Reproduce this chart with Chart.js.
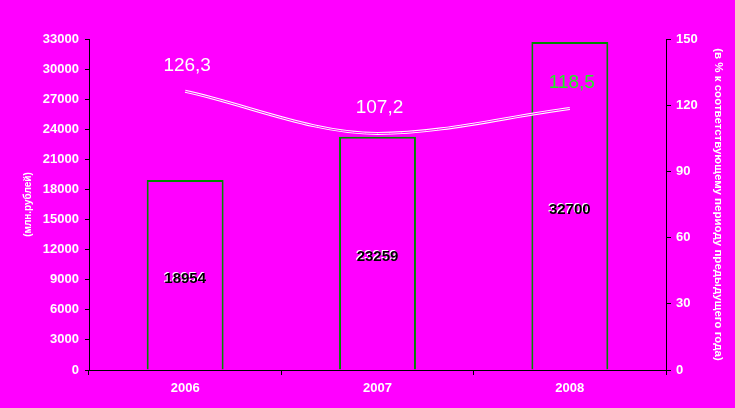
<!DOCTYPE html>
<html>
<head>
<meta charset="utf-8">
<script src="https://cdn.jsdelivr.net/npm/chart.js@4"></script>
<style>
  html, body { margin: 0; padding: 0; background: #ff00ff; }
  #wrap { position: relative; width: 735px; height: 408px; }
</style>
</head>
<body>
<div id="wrap"><canvas id="chart"></canvas></div>
<script>
const years = ["2006", "2007", "2008"];
const volume = [18954, 23259, 32700];     // млн. рублей
const growth = [126.3, 107.2, 118.5];     // % к предыдущему году
const growthLabels = ["126,3", "107,2", "118,5"];

const FONT = "'Liberation Sans', Arial, sans-serif";

// подписи значений на столбиках и над линией
const valueLabels = {
  id: "valueLabels",
  afterDatasetsDraw(chart) {
    const ctx = chart.ctx;
    ctx.save();
    ctx.textAlign = "center";
    ctx.textBaseline = "middle";

    const bars = chart.getDatasetMeta(0).data;
    ctx.font = "bold 15px " + FONT;
    bars.forEach((bar, i) => {
      const y = (bar.y + bar.base) / 2 + 4;
      ctx.fillStyle = "#ffffff";
      ctx.fillText(String(volume[i]), bar.x - 1, y - 1);
      ctx.fillStyle = "#000000";
      ctx.fillText(String(volume[i]), bar.x, y);
    });

    const pts = chart.getDatasetMeta(1).data;
    const colors = ["#ffffff", "#ffffff", "#22ee22"];
    ctx.font = "19px " + FONT;
    pts.forEach((p, i) => {
      ctx.fillStyle = colors[i];
      ctx.fillText(growthLabels[i], p.x + 2, p.y - 26);
    });
    ctx.restore();
  }
};

const plainTick = (v) => String(v);

new Chart(document.getElementById("chart"), {
  data: {
    labels: years,
    datasets: [
      {
        type: "bar",
        data: volume,
        yAxisID: "y",
        backgroundColor: "#ff00ff",
        borderColor: "#008800",
        borderWidth: 2,
        categoryPercentage: 1,
        barPercentage: 0.4,
        order: 3
      },
      {
        type: "line",
        data: growth,
        yAxisID: "y2",
        borderColor: "#ffffff",
        borderWidth: 3,
        cubicInterpolationMode: "monotone",
        pointRadius: 0,
        order: 2
      },
      {
        type: "line",
        data: growth,
        yAxisID: "y2",
        borderColor: "#ff00ff",
        borderWidth: 1,
        cubicInterpolationMode: "monotone",
        pointRadius: 0,
        order: 1
      }
    ]
  },
  options: {
    responsive: true,
    maintainAspectRatio: false,
    animation: false,
    layout: { padding: { top: 39, left: 0, right: 0, bottom: 0 } },
    plugins: {
      legend: { display: false },
      tooltip: { enabled: false }
    },
    scales: {
      x: {
        type: "category",
        offset: true,
        grid: {
          offset: true,
          drawOnChartArea: false,
          drawTicks: true,
          tickLength: 5,
          color: "#000000"
        },
        border: { display: true, color: "#000000", width: 1 },
        ticks: {
          color: "#ffffff",
          font: { family: FONT, size: 13, weight: "bold" },
          padding: 6,
          maxRotation: 0
        },
        afterFit(scale) { scale.height = 38; }
      },
      y: {
        position: "left",
        min: 0,
        max: 33000,
        grid: {
          drawOnChartArea: false,
          drawTicks: true,
          tickLength: 4,
          color: "#000000"
        },
        border: { display: true, color: "#000000", width: 1 },
        ticks: {
          stepSize: 3000,
          callback: plainTick,
          color: "#ffffff",
          font: { family: FONT, size: 13, weight: "bold" },
          padding: 6
        },
        title: {
          display: true,
          text: "(млн.рублей)",
          color: "#ffffff",
          font: { family: FONT, size: 10, weight: "bold" },
          padding: { top: 22, bottom: 0 }
        },
        afterFit(scale) { scale.width = 89; }
      },
      y2: {
        position: "right",
        min: 0,
        max: 150,
        grid: {
          drawOnChartArea: false,
          drawTicks: true,
          tickLength: 5,
          color: "#000000"
        },
        border: { display: true, color: "#000000", width: 1 },
        ticks: {
          stepSize: 30,
          callback: plainTick,
          color: "#ffffff",
          font: { family: FONT, size: 13, weight: "bold" },
          padding: 5
        },
        title: {
          display: true,
          text: "(в % к соответствующему периоду предыдущего года)",
          color: "#ffffff",
          font: { family: FONT, size: 11.5, weight: "bold" },
          padding: { top: 10, bottom: 0 }
        },
        afterFit(scale) { scale.width = 69; }
      }
    }
  },
  plugins: [valueLabels]
});
</script>
</body>
</html>
